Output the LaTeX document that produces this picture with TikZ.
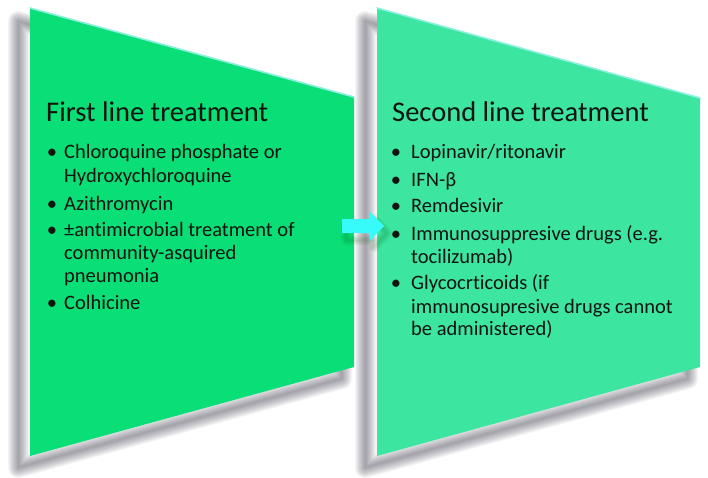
\documentclass[tikz,border=0pt]{standalone}
\usepackage{fontspec}
\setmainfont[Ligatures=NoCommon]{Carlito}
\definecolor{leftgreen}{RGB}{10,222,118}
\definecolor{rightgreen}{RGB}{60,230,160}
\definecolor{edgecyan}{RGB}{140,240,225}
\definecolor{arrowcyan}{RGB}{55,250,250}
\definecolor{txtcol}{RGB}{15,20,15}
\definecolor{shdcol}{RGB}{20,15,35}
\tikzset{
  ttl/.style={anchor=base west, inner sep=0pt, font=\fontsize{28.5}{32}\selectfont, text=txtcol},
  itm/.style={anchor=base west, inner sep=0pt, font=\fontsize{20.5}{24}\selectfont, text=txtcol},
  bul/.style={anchor=base, inner sep=0pt, font=\fontsize{20.5}{24}\selectfont, text=txtcol},
  shd/.style={draw=shdcol, line join=round, opacity=0.042},
  edge/.style={draw=edgecyan, line width=1.6pt, line cap=round}
}
\begin{document}
\begin{tikzpicture}[x=1pt,y=-1pt]
\useasboundingbox (0,0) rectangle (708,478);
% shadows
\fill[shdcol, opacity=0.042] (18,21) -- (342,110) -- (342,379) -- (18,468) -- cycle;
\fill[shdcol, opacity=0.042] (365,21) -- (688,111) -- (688,379) -- (365,468) -- cycle;
\foreach \w in {20,18,16,14,12,10,8,6,4,2}{
  \path[shd, line width=\w pt] (18,21) -- (342,110) -- (342,379) -- (18,468) -- cycle;
  \path[shd, line width=\w pt] (365,21) -- (688,111) -- (688,379) -- (365,468) -- cycle;
}
% left panel
\fill[leftgreen] (30,8) coordinate (L1) -- (354,97) coordinate (L2) -- (354,367) coordinate (L3) -- (30,456) coordinate (L4) -- cycle;
\draw[edge] (L1) -- (L2);
% right panel
\fill[rightgreen] (377,8) coordinate (R1) -- (700,98) coordinate (R2) -- (700,367) coordinate (R3) -- (377,456) coordinate (R4) -- cycle;
\draw[edge] (R1) -- (R2);
% arrow shadow
\foreach \w in {10,7,4,1}{
  \path[draw=black!70!green, opacity=0.06, line join=round, line width=\w pt]
    (346,225) -- (374,225) -- (374,219) -- (387,233) -- (374,247) -- (374,240) -- (346,240) -- cycle;
}
% arrow
\fill[arrowcyan] (342,219) coordinate (A1) -- (370,219) -- (370,212) -- (384,226) coordinate (A2) -- (370,241) -- (370,233) -- (342,233) -- cycle;
% left texts
\node[ttl] (lt) at (46,122) {First line treatment};
\node[bul] (lb1) at (52,159) {•};
\node[itm] (l1) at (64,159) {Chloroquine phosphate or};
\node[itm] (l1b) at (64,183) {Hydroxychloroquine};
\node[bul] (lb2) at (52,210) {•};
\node[itm] (l2) at (64,210) {Azithromycin};
\node[bul] (lb3) at (52,236) {•};
\node[itm] (l3) at (64,236) {±antimicrobial treatment of};
\node[itm] (l3b) at (64,259) {community-asquired};
\node[itm] (l3c) at (64,282) {pneumonia};
\node[bul] (lb4) at (52,309) {•};
\node[itm] (l4) at (64,309) {Colhicine};
% right texts
\node[ttl] (rt) at (392,122) {Second line treatment};
\node[bul] (rb1) at (396,159) {•};
\node[itm] (r1) at (411,159) {Lopinavir/ritonavir};
\node[bul] (rb2) at (396,186) {•};
\node[itm] (r2) at (411,186) {IFN-β};
\node[bul] (rb3) at (396,212) {•};
\node[itm] (r3) at (411,212) {Remdesivir};
\node[bul] (rb4) at (396,240) {•};
\node[itm] (r4) at (411,240) {Immunosuppresive drugs (e.g.};
\node[itm] (r4b) at (411,263) {tocilizumab)};
\node[bul] (rb5) at (396,289) {•};
\node[itm] (r5) at (411,289) {Glycocrticoids (if};
\node[itm] (r5b) at (411,313) {immunosupresive drugs cannot};
\node[itm] (r5c) at (411,335) {be administered)};
\end{tikzpicture}
\end{document}
